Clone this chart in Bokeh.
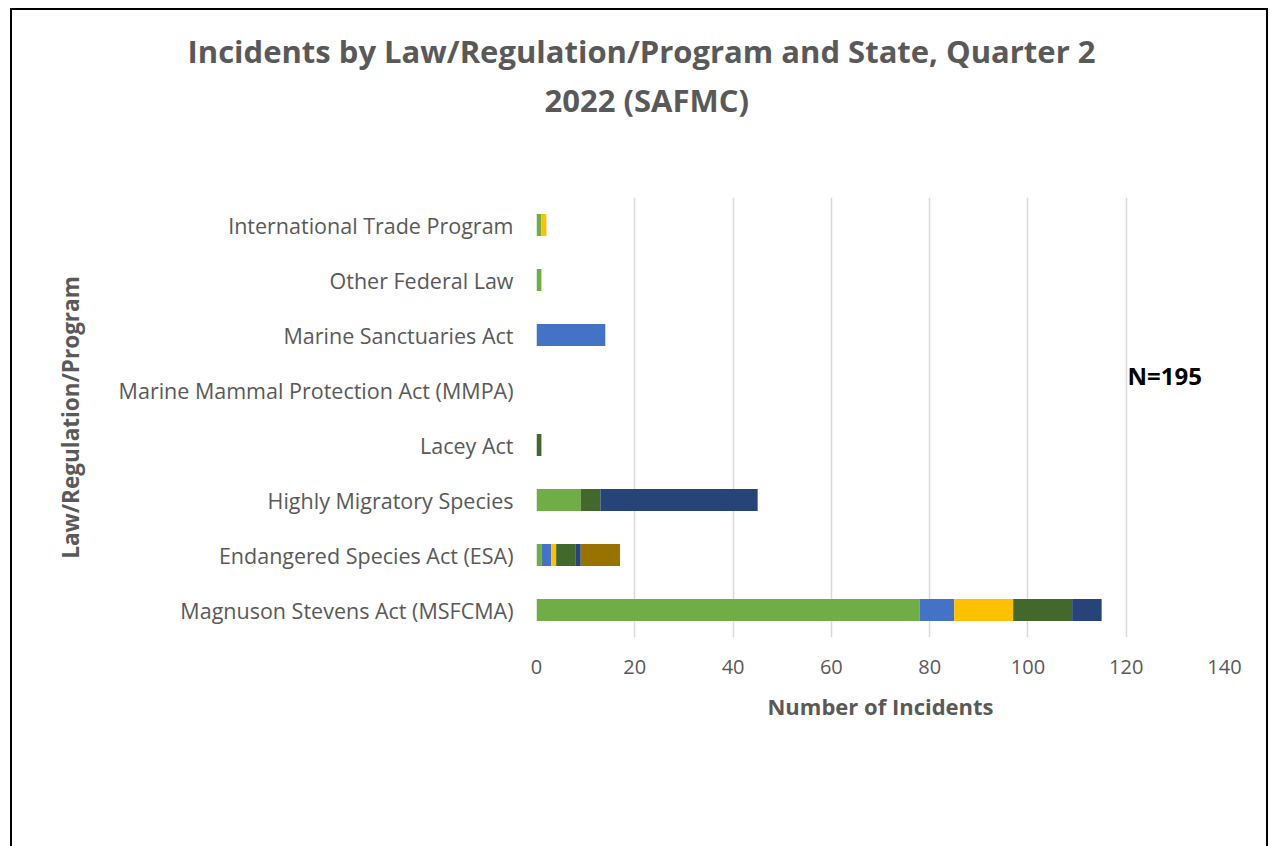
from bokeh.plotting import figure
from bokeh.models import (FactorRange, Label, ColumnDataSource, FixedTicker, Range1d, Title,
                          Legend, LegendItem)
from bokeh.embed import file_html
from bokeh.resources import INLINE

categories = ["Magnuson Stevens Act (MSFCMA)", "Endangered Species Act (ESA)",
              "Highly Migratory Species", "Lacey Act",
              "Marine Mammal Protection Act (MMPA)", "Marine Sanctuaries Act",
              "Other Federal Law", "International Trade Program"]
states = ["FL EAST", "FL KEYS", "GA", "SC", "NC", "Multiple", "NED"]
fl_east = [78, 1, 9, 0, 0, 0, 1, 1]
fl_keys = [7, 2, 0, 0, 0, 14, 0, 0]
ga = [12, 1, 0, 0, 0, 0, 0, 1]
sc = [12, 4, 4, 1, 0, 0, 0, 0]
nc = [6, 1, 32, 0, 0, 0, 0, 0]
multiple = [0, 8, 0, 0, 0, 0, 0, 0]
ned = [0, 0, 0, 0, 0, 0, 0, 0]
colors = ["#70AD47", "#4472C4", "#FFC000", "#43682B", "#264478", "#997300", "#8CC168"]
x_ticks = [0, 20, 40, 60, 80, 100, 120, 140]
title_lines = ["Incidents by Law/Regulation/Program and State, Quarter 2", "2022 (SAFMC)"]
note = "N=195"

FONT = "Open Sans"
GRAY = "#595959"

source = ColumnDataSource(dict(cat=categories, **{
    "FL EAST": fl_east, "FL KEYS": fl_keys, "GA": ga, "SC": sc,
    "NC": nc, "Multiple": multiple, "NED": ned}))

p = figure(frame_width=688, frame_height=440, output_backend="svg", toolbar_location=None,
           y_range=FactorRange(*categories, range_padding=0),
           x_range=Range1d(0, 140),
           min_border_left=524, min_border_right=42, min_border_top=187,
           min_border_bottom=211)
p.styles = {"border": "2px solid black", "margin-left": "10px", "margin-top": "8px"}

renderers = p.hbar_stack(states, y="cat", height=0.4, color=colors, source=source,
                         line_color=None)

p.outline_line_color = None
p.xgrid.grid_line_color = "#D9D9D9"
p.xgrid.grid_line_width = 1.5
p.ygrid.grid_line_color = None
p.xaxis.ticker = FixedTicker(ticks=x_ticks)
for ax in (p.xaxis, p.yaxis):
    ax.axis_line_color = None
    ax.major_tick_line_color = None
    ax.minor_tick_line_color = None
    ax.major_tick_out = 0
    ax.major_tick_in = 0
    ax.major_label_text_font = FONT
    ax.major_label_text_color = GRAY
    ax.axis_label_text_font = FONT
    ax.axis_label_text_font_style = "bold"
    ax.axis_label_text_color = GRAY
p.xaxis.major_label_text_font_size = "20px"
p.yaxis.major_label_text_font_size = "21.5px"
p.xaxis.axis_label_text_font_size = "22px"
p.yaxis.axis_label_text_font_size = "22.5px"
p.yaxis.major_label_standoff = 23
p.xaxis.major_label_standoff = 22
p.xaxis.axis_label = "Number of Incidents"
p.xaxis.axis_label_standoff = 14
p.yaxis.axis_label = "Law/Regulation/Program"
p.yaxis.axis_label_standoff = 30

# titles stacked above the frame (first added = nearest the frame)
p.add_layout(Title(text=" ", text_font_size="10px", standoff=64), "above")
p.add_layout(Title(text=title_lines[1], align="left", offset=8, standoff=0,
                   vertical_align="bottom", text_font=FONT, text_font_style="bold",
                   text_font_size="31px", text_color=GRAY), "above")
p.add_layout(Title(text=title_lines[0], align="left", offset=-349, standoff=10,
                   vertical_align="bottom", text_font=FONT, text_font_style="bold",
                   text_font_size="31px", text_color=GRAY), "above")

p.add_layout(Label(x=591, y=262, x_units="screen", y_units="screen", text=note,
                   text_align="left", text_baseline="middle", text_font=FONT,
                   text_font_style="bold", text_font_size="24px", text_color="#000000"))

lg = Legend(items=[LegendItem(label=s, renderers=[r]) for s, r in zip(states, renderers)],
            location="top_center", orientation="horizontal",
            border_line_color=None, background_fill_alpha=0,
            glyph_width=12, glyph_height=12, label_standoff=6, spacing=19,
            padding=2, margin=73, label_text_font=FONT, label_text_font_size="21px",
            label_text_color=GRAY)
p.add_layout(lg, "below")

open("out.html", "w").write(file_html(p, INLINE))
